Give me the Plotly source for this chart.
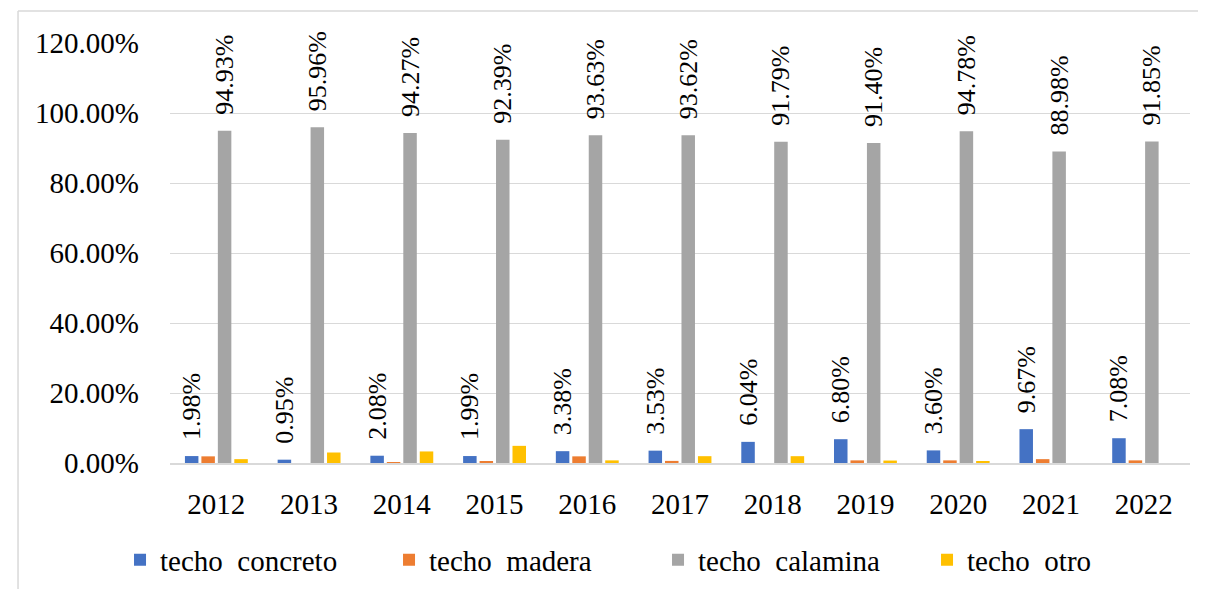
import plotly.graph_objects as go

years = ["2012", "2013", "2014", "2015", "2016", "2017", "2018", "2019", "2020", "2021", "2022"]
concreto = [1.98, 0.95, 2.08, 1.99, 3.38, 3.53, 6.04, 6.80, 3.60, 9.67, 7.08]
madera = [1.90, 0.00, 0.20, 0.45, 1.90, 0.60, 0.00, 0.75, 0.75, 1.10, 0.75]
calamina = [94.93, 95.96, 94.27, 92.39, 93.63, 93.62, 91.79, 91.40, 94.78, 88.98, 91.85]
otro = [1.10, 3.00, 3.30, 4.90, 0.75, 1.95, 1.95, 0.70, 0.50, 0.00, 0.00]

names = ["techo\u00a0 concreto", "techo\u00a0 madera", "techo\u00a0 calamina", "techo\u00a0 otro"]
colors = ["#4472C4", "#ED7D31", "#A5A5A5", "#FFC000"]
series = [concreto, madera, calamina, otro]
labeled = [True, False, True, False]

FONT = "Times New Roman"
fig = go.Figure()
for name, vals, col, lab in zip(names, series, colors, labeled):
    fr = [v / 100 for v in vals]
    kw = {}
    if lab:
        kw = dict(
            text=["\u00a0\u00a0" + f"{v:.2f}%" for v in vals],
            textposition="outside",
            textangle=-90,
            constraintext="none",
            cliponaxis=False,
            textfont=dict(family=FONT, size=26, color="#000000"),
        )
    fig.add_trace(go.Bar(x=years, y=fr, name=name, marker=dict(color=col, line=dict(width=0)), **kw))

fig.update_layout(
    width=1198,
    height=581,
    margin=dict(l=162, r=16, t=35, b=126, autoexpand=False),
    paper_bgcolor="white",
    plot_bgcolor="white",
    barmode="group",
    bargap=0.29,
    bargroupgap=0.18,
    font=dict(family=FONT, size=29, color="#000000"),
    showlegend=True,
    legend=dict(
        orientation="h",
        x=-0.049,
        xanchor="left",
        y=-0.231,
        yanchor="middle",
        entrywidth=224,
        entrywidthmode="pixels",
        font=dict(family=FONT, size=29, color="#000000"),
        bgcolor="rgba(0,0,0,0)",
    ),
    shapes=[
        dict(type="line", xref="paper", yref="paper", x0=-0.149, x1=1.03, y0=1.076, y1=1.076,
             line=dict(color="#d9d9d9", width=1.5)),
        dict(type="line", xref="paper", yref="paper", x0=-0.149, x1=-0.149, y0=1.076, y1=-0.32,
             line=dict(color="#d9d9d9", width=1.5)),
    ],
)
fig.update_yaxes(
    range=[0, 1.2],
    tickvals=[0, 0.2, 0.4, 0.6, 0.8, 1.0, 1.2],
    tickformat=".2%",
    showgrid=True,
    gridcolor="#d9d9d9",
    gridwidth=1,
    zeroline=False,
    showline=False,
    ticks="",
    automargin=False,
    ticklabelstandoff=30,
    tickfont=dict(family=FONT, size=29, color="#000000"),
)
fig.update_xaxes(
    showline=True,
    linecolor="#d9d9d9",
    linewidth=2,
    ticks="",
    showgrid=False,
    automargin=False,
    ticklabelstandoff=14,
    tickfont=dict(family=FONT, size=29, color="#000000"),
)
fig.write_html("out.html")
